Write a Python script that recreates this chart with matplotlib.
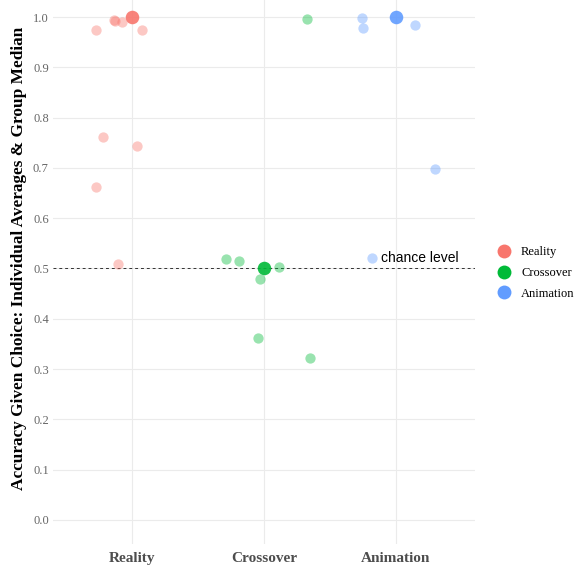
import matplotlib.pyplot as plt

# Data
groups = ["Reality", "Crossover", "Animation"]
colors = ["#F8766D", "#00BA38", "#619CFF"]
medians = [1.0, 0.5, 1.0]

# individual averages: jittered x position and accuracy
reality_x = [0.727, 0.862, 0.870, 0.924, 1.073, 0.778, 1.036, 0.727, 0.892]
reality_y = [0.974, 0.994, 0.993, 0.991, 0.974, 0.761, 0.744, 0.662, 0.508]
crossover_x = [1.710, 1.811, 2.111, 1.970, 1.952, 2.351, 2.326]
crossover_y = [0.519, 0.514, 0.503, 0.479, 0.361, 0.321, 0.996]
animation_x = [2.740, 2.752, 3.144, 3.295, 2.820]
animation_y = [0.998, 0.979, 0.985, 0.698, 0.520]

yticks = [0.0, 0.1, 0.2, 0.3, 0.4, 0.5, 0.6, 0.7, 0.8, 0.9, 1.0]

fig = plt.figure(figsize=(5.8, 5.66), dpi=100)
ax = fig.add_axes([53 / 580, 22 / 566, 422 / 580, 544 / 566])

# individual points (faded)
ax.scatter(reality_x, reality_y, s=55, color=colors[0], alpha=0.4, linewidths=0, zorder=3)
ax.scatter(crossover_x, crossover_y, s=55, color=colors[1], alpha=0.4, linewidths=0, zorder=3)
ax.scatter(animation_x, animation_y, s=55, color=colors[2], alpha=0.4, linewidths=0, zorder=3)

# group medians
for i, (m, c) in enumerate(zip(medians, colors)):
    ax.scatter(i + 1, m, s=95, color=c, alpha=0.9, linewidths=0, zorder=4, label=groups[i])

# chance level
ax.axhline(0.5, color="#333333", linestyle=(0, (3, 3)), linewidth=0.7, zorder=2)
ax.text(2.886, 0.52, "chance level", fontsize=10, family="Liberation Sans",
        va="center", ha="left", color="black")

ax.set_xlim(0.4, 3.6)
ax.set_ylim(-0.048, 1.034)
ax.set_xticks([1, 2, 3])
ax.set_xticklabels(groups, fontsize=11, fontweight="bold", family="Liberation Serif", color="#4D4D4D")
ax.set_yticks(yticks)
ax.set_yticklabels([f"{v:.1f}" for v in yticks], fontsize=9, family="Liberation Serif", color="#666666")
ax.tick_params(length=0)
ax.tick_params(axis="y", pad=3)
ax.tick_params(axis="x", pad=6)
ax.set_ylabel("Accuracy Given Choice: Individual Averages & Group Median",
              fontsize=12.4, fontweight="bold", family="Liberation Serif")
ax.yaxis.set_label_coords(-26 / 422, (544 - 258) / 544)

ax.grid(True, color="#EBEBEB", linewidth=0.8, zorder=0)
ax.set_axisbelow(True)
for s in ax.spines.values():
    s.set_visible(False)

# legend on the right
handles = [plt.Line2D([], [], marker="o", linestyle="", markersize=10,
                      markerfacecolor=c, markeredgewidth=0) for c in colors]
leg = fig.legend(handles, groups, loc="center left", bbox_to_anchor=(486 / 580, 1 - 273 / 566),
                 frameon=False, prop={"family": "Liberation Serif", "size": 9},
                 handletextpad=0.4, labelspacing=0.7, borderaxespad=0)

fig.savefig("out.png", dpi=100)
